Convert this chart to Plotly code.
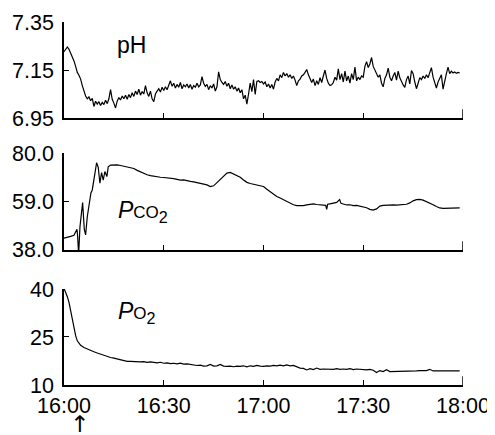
import plotly.graph_objects as go

# ---------------- data ----------------
tick_minutes = [0, 30, 60, 90, 120]
tick_labels = ["16:00", "16:30", "17:00", "17:30", "18:00"]

# pH sampled every 0.5 min from 16:00
ph = [
    7.226, 7.238, 7.246, 7.236, 7.222, 7.205, 7.188, 7.165, 7.140, 7.128,
    7.112, 7.085, 7.058, 7.042, 7.030, 7.038, 7.022, 7.032, 6.998, 7.020,
    7.008, 7.018, 7.002, 7.015, 7.006, 7.024, 7.010, 7.030, 7.068, 7.028,
    7.012, 6.992, 7.020, 7.035, 7.025, 7.042, 7.030, 7.045, 7.028, 7.048,
    7.035, 7.055, 7.040, 7.062, 7.048, 7.070, 7.045, 7.060, 7.050, 7.085,
    7.055, 7.040, 7.062, 7.030, 7.018, 7.050, 7.062, 7.072, 7.058, 7.078,
    7.065, 7.080, 7.068, 7.090, 7.105, 7.082, 7.095, 7.075, 7.090, 7.078,
    7.098, 7.072, 7.088, 7.080, 7.092, 7.075, 7.090, 7.070, 7.085, 7.078,
    7.095, 7.080, 7.088, 7.122, 7.095, 7.082, 7.090, 7.068, 7.085, 7.075,
    7.092, 7.062, 7.080, 7.142, 7.110, 7.098, 7.090, 7.102, 7.082, 7.095,
    7.072, 7.088, 7.070, 7.080, 7.062, 7.075, 7.055, 7.068, 7.030, 7.045,
    7.008, 7.050, 7.095, 7.060, 7.110, 7.048, 7.102, 7.105, 7.098, 7.102,
    7.092, 7.100, 7.080, 7.092, 7.075, 7.090, 7.070, 7.100, 7.115, 7.105,
    7.130, 7.118, 7.140, 7.125, 7.135, 7.120, 7.130, 7.115, 7.125, 7.108,
    7.085, 7.105, 7.112, 7.125, 7.130, 7.140, 7.152, 7.130, 7.115, 7.098,
    7.112, 7.085, 7.105, 7.090, 7.118, 7.098, 7.125, 7.150, 7.115, 7.095,
    7.085, 7.088, 7.098, 7.120, 7.108, 7.155, 7.110, 7.135, 7.100, 7.145,
    7.105, 7.125, 7.095, 7.135, 7.110, 7.162, 7.105, 7.120, 7.110, 7.125,
    7.120, 7.165, 7.185, 7.160, 7.175, 7.202, 7.165, 7.150, 7.138, 7.120,
    7.130, 7.095, 7.080, 7.115, 7.130, 7.158, 7.120, 7.105, 7.125, 7.140,
    7.108, 7.145, 7.118, 7.100, 7.088, 7.078, 7.110, 7.125, 7.092, 7.148,
    7.135, 7.100, 7.072, 7.095, 7.118, 7.110, 7.125, 7.115, 7.130, 7.118,
    7.140, 7.160, 7.120, 7.092, 7.075, 7.100, 7.118, 7.130, 7.070, 7.110,
    7.135, 7.162, 7.135, 7.145, 7.138, 7.142, 7.136, 7.140, 7.138,
]
ph_t = [i * 0.5 for i in range(len(ph))]

pco2_t = [
    0, 1, 2, 3, 3.6, 3.9, 4.1, 4.4, 4.8, 5.3, 5.6, 6.1, 6.5, 7.0, 7.3, 7.8,
    8.1, 8.5, 8.8, 9.3, 9.8, 10.3, 10.8, 11.3, 11.8, 12.3, 12.9, 13.3, 14,
    15, 16, 17, 18, 19, 20, 21, 22, 23, 24, 25, 26, 27, 28, 29, 30, 31, 32,
    33, 34, 35, 36, 37, 38, 39, 40, 41, 42, 43, 44, 45, 46, 47, 48, 49, 50,
    51, 52, 53, 54, 55, 56, 57, 58, 59, 60, 61, 62, 63, 64, 65, 66, 67, 68,
    69, 70, 71, 72, 73, 74, 75, 76, 77, 78, 78.7, 79.0, 79.3, 80, 81, 82,
    82.9, 83.3, 84, 85, 86, 87, 88, 89, 90, 91, 92, 93, 94, 95, 96, 97, 98,
    99, 100, 101, 102, 103, 104, 105, 106, 107, 108, 109, 110, 111, 112,
    113, 114, 115, 116, 117, 118, 119,
]
pco2 = [
    43.1, 43.4, 43.9, 44.4, 46.2, 47.0, 44.0, 36.0, 48.0, 56.8, 58.5, 47.0,
    44.5, 52.4, 55.3, 58.2, 62.7, 64.0, 67.6, 71.2, 75.8, 73.8, 66.9, 71.5,
    68.3, 72.0, 69.8, 74.0, 74.8,
    75.0, 74.9, 74.6, 74.3, 74.0, 73.6, 73.3, 72.5, 71.8, 71.2, 70.6, 70.2,
    69.9, 69.7, 69.5, 69.4, 69.3, 69.2, 68.9, 68.6, 68.3, 68.4, 67.9, 67.7,
    67.5, 67.2, 67.0, 66.6, 66.2, 65.5, 65.8, 67.2, 68.5, 70.2, 71.3, 71.6,
    71.0, 70.2, 69.5, 68.3, 67.3, 66.8, 66.4, 66.2, 65.9, 65.5, 64.3, 63.2,
    62.1, 61.2, 60.5, 59.7, 59.0, 58.3, 57.6, 57.2, 57.1, 57.2, 57.5, 57.8,
    58.0, 57.7, 57.6, 57.5, 57.3, 55.6, 57.8, 58.0, 58.4, 58.6, 59.8, 58.2,
    57.9, 57.5, 57.6, 57.2, 57.3, 57.0, 56.8, 56.3, 55.6, 55.3, 55.8, 57.0,
    57.3, 57.4, 57.6, 57.5, 57.4, 57.6, 57.5, 57.8, 58.4, 59.3, 59.8, 59.9,
    59.6, 59.0, 58.3, 57.6, 56.8, 56.2, 56.0, 56.1, 56.0, 56.2, 56.1, 56.2,
]

po2_t = [0, 0.5, 1, 1.5, 2, 2.5, 3, 3.5, 4, 4.5] + list(range(5, 120))
po2 = [
    40.2, 39.0, 37.6, 35.8, 33.2, 30.6, 27.8, 25.4, 23.8, 22.9,
    22.4, 21.7, 21.2, 20.8, 20.4, 20.0, 19.6, 19.2, 18.9, 18.6,
    18.4, 18.1, 17.8, 17.6, 17.4, 17.4, 17.3, 17.3, 17.2, 17.3,
    17.1, 17.2, 17.1, 16.9, 17.1, 16.8, 16.9, 16.7, 16.8, 16.6,
    16.8, 16.5, 16.6, 16.4, 16.3, 16.1, 16.2, 15.9, 16.0, 16.4,
    15.9, 16.0, 16.4, 15.9, 15.8, 15.9, 15.7, 15.9, 15.8, 16.0,
    15.7, 16.0, 15.8, 16.1, 15.9, 15.8, 16.0, 15.9, 16.1, 16.0,
    16.2, 16.0, 16.3, 16.0, 16.1, 15.6, 15.3, 15.2, 14.7, 15.1,
    14.8, 15.3, 14.9, 15.0, 14.9, 15.0, 14.9, 15.1, 14.9, 15.0,
    14.9, 15.1, 14.8, 15.0, 14.9, 15.0, 14.7, 14.9, 14.6, 13.9,
    14.5, 14.2, 14.8, 14.2, 14.2, 14.2, 14.3, 14.3, 14.4, 14.4,
    14.4, 14.4, 14.5, 14.4, 14.5, 14.9, 14.4, 14.4, 14.5, 14.4,
    14.4, 14.4, 14.5, 14.4, 14.4,
]

ph_ticks = [6.95, 7.15, 7.35]
pco2_ticks = [38.0, 59.0, 80.0]
po2_ticks = [10, 25, 40]

# ---------------- figure ----------------
FONT = "Liberation Sans, Arial, Helvetica, sans-serif"
line = dict(color="black", width=1.2)
TICKFONT = dict(family=FONT, size=21.5, color="black")

fig = go.Figure()
fig.add_trace(go.Scatter(x=ph_t, y=ph, mode="lines", line=line, xaxis="x", yaxis="y"))
fig.add_trace(go.Scatter(x=pco2_t, y=pco2, mode="lines", line=line, xaxis="x2", yaxis="y2"))
fig.add_trace(go.Scatter(x=po2_t, y=po2, mode="lines", line=line, xaxis="x3", yaxis="y3"))

def xax(anchor, labels):
    return dict(
        range=[0, 120], domain=[0, 1], anchor=anchor, automargin=False,
        tickvals=tick_minutes, ticktext=tick_labels, showticklabels=labels,
        ticks="inside", ticklen=5, tickwidth=1.3, tickcolor="black",
        ticklabelstandoff=0,
        showline=True, linecolor="black", linewidth=1.5,
        showgrid=False, zeroline=False, tickfont=TICKFONT,
    )

def yax(anchor, dom, rng, tv, fmt):
    return dict(
        range=rng, domain=dom, anchor=anchor, automargin=False,
        tickvals=tv, ticktext=[fmt.format(v) for v in tv],
        ticks="inside", ticklen=5, tickwidth=1.3, tickcolor="black",
        ticklabelstandoff=4,
        showline=True, linecolor="black", linewidth=1.5,
        showgrid=False, zeroline=False, tickfont=TICKFONT,
    )

# the page body adds an 8 px offset, so the figure is 8 px smaller each way
fig.update_layout(
    width=487, height=427,
    margin=dict(l=56, r=32, t=14, b=50),
    paper_bgcolor="white", plot_bgcolor="white",
    showlegend=False,
    xaxis=xax("y", False),
    xaxis2=xax("y2", False),
    xaxis3=xax("y3", True),
    yaxis=yax("x", [0.7355, 1.0], [6.95, 7.35], ph_ticks, "{:.2f}"),
    yaxis2=yax("x2", [0.372, 0.639], [38.0, 80.0], pco2_ticks, "{:.1f}"),
    yaxis3=yax("x3", [0.0, 0.2645], [10, 40], po2_ticks, "{:.0f}"),
)

# longer end tick at the right end of each time axis
for xr, yr in (("x", "y"), ("x2", "y2"), ("x3", "y3")):
    fig.add_shape(type="line", xref=xr, yref=yr + " domain",
                  x0=tick_minutes[-1], x1=tick_minutes[-1], y0=0, y1=0.09,
                  line=dict(color="black", width=1.5))

lab_font = dict(family=FONT, size=23, color="black")
fig.add_annotation(text="pH", xref="x domain", yref="y domain", x=0.128, y=0.76,
                   xanchor="left", yanchor="middle", showarrow=False, font=lab_font)
fig.add_annotation(text="<i>P</i><span style='font-size:17px'>CO</span><sub>2</sub>",
                   xref="x2 domain", yref="y2 domain", x=0.13, y=0.40,
                   xanchor="left", yanchor="middle", showarrow=False, font=lab_font)
fig.add_annotation(text="<i>P</i><span style='font-size:17px'>O</span><sub>2</sub>",
                   xref="x3 domain", yref="y3 domain", x=0.13, y=0.76,
                   xanchor="left", yanchor="middle", showarrow=False, font=lab_font)
fig.add_annotation(text="↑", xref="paper", yref="paper", x=0.04, y=-0.108,
                   xanchor="center", yanchor="middle", showarrow=False,
                   font=dict(family="DejaVu Sans", size=23, color="black"))

fig.write_html("out.html")
